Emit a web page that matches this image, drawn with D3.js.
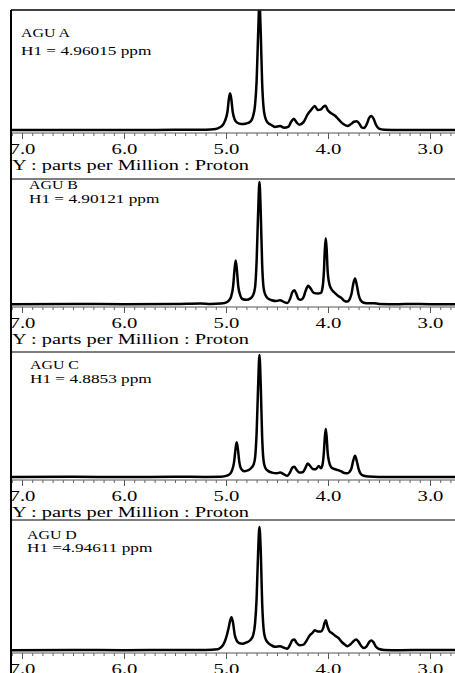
<!DOCTYPE html>
<html>
<head>
<meta charset="utf-8">
<script src="https://cdn.jsdelivr.net/npm/d3@7"></script>
<style>
  body { margin: 0; background: #fff; }
  svg { display: block; }
  text { font-family: 'Liberation Serif', 'Times New Roman', serif; fill: #000; }
</style>
</head>
<body>
<svg id="chart" width="455" height="673"></svg>
<script>
// sample names and H1 shift annotations
var samples = ['AGU A', 'AGU B', 'AGU C', 'AGU D'];
var h1Labels = ['H1 = 4.96015 ppm', 'H1 = 4.90121 ppm', 'H1 = 4.8853 ppm', 'H1 =4.94611 ppm'];
var axisTitle = 'Y : parts per Million : Proton';
var majorTicks = [7.0, 6.0, 5.0, 4.0, 3.0];

// [ppm, relative intensity (tallest peak = 100)]
var spectrumA = [[7.10,0.3],[6.50,0.4],[6.00,0.3],[5.50,0.5],[5.20,0.6],[5.10,1.2],[5.06,2.5],[5.035,4],[5.01,7.5],[4.985,15],[4.972,24.5],[4.96,29],[4.948,24.5],[4.935,15],[4.915,8.5],[4.89,6],[4.85,5],[4.80,5.5],[4.76,7],[4.735,11],[4.715,20],[4.70,38],[4.685,75],[4.672,100],[4.659,75],[4.646,38],[4.632,18],[4.615,10],[4.59,6],[4.56,4.5],[4.52,2.8],[4.47,3.5],[4.43,2.2],[4.39,2.8],[4.36,7],[4.335,9.2],[4.31,6.5],[4.28,4.5],[4.24,6.5],[4.20,12.5],[4.16,16.5],[4.13,19],[4.10,16],[4.07,16.5],[4.045,18.5],[4.025,19.2],[4.00,15.5],[3.96,13],[3.93,11.5],[3.89,8],[3.85,5],[3.81,3.5],[3.775,5],[3.745,6.8],[3.72,7.2],[3.695,5.5],[3.67,2.5],[3.645,2],[3.62,5],[3.595,10],[3.575,11.3],[3.555,9.5],[3.53,4.5],[3.50,1.5],[3.45,0.6],[3.30,0.3],[3.00,0.4],[2.70,0.3]];
var spectrumB = [[7.10,0.3],[6.50,0.4],[6.00,0.3],[5.50,0.4],[5.25,0.8],[5.15,0.5],[5.05,0.8],[4.99,2],[4.97,3.5],[4.95,6.5],[4.93,15],[4.917,28],[4.905,36],[4.893,28],[4.88,15],[4.86,7.5],[4.84,4.5],[4.80,3.8],[4.76,5],[4.735,7.5],[4.715,14],[4.70,35],[4.685,75],[4.672,100],[4.659,74],[4.646,34],[4.632,14],[4.615,8],[4.59,5],[4.55,3.5],[4.51,2.8],[4.47,3.5],[4.43,2],[4.40,1.2],[4.37,5],[4.35,10],[4.33,11.7],[4.31,8.5],[4.29,4.5],[4.265,3.8],[4.24,6],[4.22,11],[4.195,15.3],[4.17,13],[4.14,9.5],[4.10,9],[4.07,9.5],[4.055,13],[4.04,27],[4.031,45],[4.022,54],[4.013,45],[4.004,28],[3.99,18],[3.97,13],[3.94,10],[3.90,7],[3.87,5.4],[3.84,3],[3.81,2.4],[3.79,4],[3.77,8.5],[3.752,17],[3.735,21.3],[3.718,16],[3.70,8],[3.68,3.5],[3.65,1.5],[3.60,1],[3.55,1],[3.50,0.5],[3.30,0.3],[3.20,0.5],[3.00,0.3],[2.70,0.3]];
var spectrumC = [[7.10,0.4],[6.50,0.6],[6.00,0.4],[5.50,0.6],[5.20,0.5],[5.05,0.6],[4.99,1.5],[4.96,3],[4.94,6],[4.92,13],[4.907,23],[4.895,28.7],[4.883,23],[4.87,13],[4.85,7],[4.82,5.2],[4.78,6],[4.75,8],[4.73,10.5],[4.715,16],[4.70,36],[4.685,75],[4.672,100],[4.659,74],[4.646,34],[4.632,14],[4.615,8],[4.59,5.5],[4.55,4],[4.50,3.5],[4.47,4.1],[4.43,2.5],[4.40,1.4],[4.37,4.5],[4.35,8],[4.33,8.7],[4.31,6.5],[4.28,4],[4.25,4.2],[4.22,8],[4.20,11.5],[4.18,10],[4.15,7],[4.12,6.8],[4.09,9.3],[4.07,7.5],[4.055,10],[4.04,21],[4.031,33],[4.022,39.6],[4.013,33],[4.004,21],[3.99,13],[3.97,8.5],[3.94,7],[3.90,6],[3.87,5],[3.84,3.6],[3.81,3.4],[3.79,4.5],[3.77,7.5],[3.752,14],[3.735,17.7],[3.718,13.5],[3.70,7],[3.68,3],[3.65,1.4],[3.60,0.8],[3.50,0.5],[3.30,0.4],[3.00,0.5],[2.70,0.4]];
var spectrumD = [[7.10,0.3],[6.50,0.4],[6.00,0.3],[5.50,0.4],[5.20,0.4],[5.08,1],[5.05,2.5],[5.025,5],[5.00,10],[4.975,18],[4.96,24],[4.946,27],[4.932,23],[4.915,13],[4.895,8],[4.875,6.2],[4.84,5.4],[4.80,6.5],[4.76,8.5],[4.735,12],[4.715,22],[4.70,42],[4.685,80],[4.672,100],[4.659,80],[4.646,40],[4.632,18],[4.615,10],[4.59,6.5],[4.56,4.5],[4.52,3],[4.47,3.5],[4.43,2.2],[4.40,1.5],[4.37,5],[4.35,8.3],[4.33,8.9],[4.31,6.5],[4.28,4.3],[4.24,4.8],[4.21,8],[4.18,12.2],[4.15,14.5],[4.13,16.3],[4.10,15.4],[4.07,15.4],[4.05,17.5],[4.035,22],[4.022,24.4],[4.005,19.5],[3.985,15.5],[3.96,14],[3.93,12],[3.90,10.3],[3.86,6.5],[3.83,4.5],[3.81,3.4],[3.78,5],[3.75,7.5],[3.725,8.9],[3.70,7],[3.675,3.8],[3.65,2],[3.62,3.5],[3.595,7],[3.575,8.1],[3.555,6.8],[3.53,3],[3.50,1.2],[3.45,0.5],[3.30,0.3],[3.00,0.4],[2.70,0.3]];

var spectra = [spectrumA, spectrumB, spectrumC, spectrumD];

// layout
var width = 455, height = 673,
    left = 11,
    stretch = 1.38,
    panelTop = [10, 179, 352, 520],
    axisY = [133, 307, 480, 653],
    peakTop = [2, 182, 355, 527],
    labelX = [21, 29, 30, 27],
    labelY = [37, 189, 369, 539],
    h1Y = [55, 203, 383, 552];

var svg = d3.select('#chart');
var defs = svg.append('defs');

defs.append('clipPath')
    .attr('id', 'clip-left')
  .append('rect')
    .attr('x', left + 1)
    .attr('y', 0)
    .attr('width', width - left)
    .attr('height', height);

var x = d3.scaleLinear()
    .domain([7, 3])
    .range([22, 430]);

var minorTicks = d3.range(71, 27, -1).map(function(v) { return v / 10; });

var root = svg.append('g').attr('clip-path', 'url(#clip-left)');

spectra.forEach(function(data, i) {
  var base = axisY[i] - 2.5;
  var y = d3.scaleLinear()
      .domain([0, 100])
      .range([base, peakTop[i]]);

  var g = root.append('g').attr('class', 'panel panel-' + i);

  defs.append('clipPath')
      .attr('id', 'clip' + i)
    .append('rect')
      .attr('x', left)
      .attr('y', panelTop[i] + 0.5)
      .attr('width', width - left)
      .attr('height', axisY[i] - panelTop[i]);

  var line = d3.line()
      .x(function(d) { return x(d[0]); })
      .y(function(d) { return y(d[1]); })
      .curve(d3.curveMonotoneX);

  g.append('path')
      .datum(data)
      .attr('clip-path', 'url(#clip' + i + ')')
      .attr('d', line)
      .attr('fill', 'none')
      .attr('stroke', '#000')
      .attr('stroke-width', 2.5)
      .attr('stroke-linejoin', 'round');

  // axis line across the whole panel
  g.append('line')
      .attr('x1', left)
      .attr('x2', width)
      .attr('y1', axisY[i])
      .attr('y2', axisY[i])
      .attr('stroke', '#555')
      .attr('stroke-width', 1);

  var minor = g.append('g')
      .attr('transform', 'translate(0,' + axisY[i] + ')')
      .call(d3.axisBottom(x).tickValues(minorTicks).tickSize(3).tickSizeOuter(0).tickFormat(''));
  minor.select('.domain').remove();
  minor.selectAll('line').attr('stroke', '#666');

  var major = g.append('g')
      .attr('transform', 'translate(0,' + axisY[i] + ')')
      .call(d3.axisBottom(x).tickValues(majorTicks).tickSize(6).tickSizeOuter(0).tickFormat(d3.format('.1f')));
  major.select('.domain').remove();
  major.selectAll('line').attr('stroke', '#555');
  major.selectAll('text')
      .attr('y', 21)
      .attr('dy', 0)
      .attr('fill', '#000')
      .style('font-size', '15px')
      .style('font-family', "'Liberation Serif', serif")
      .attr('transform', 'scale(' + stretch + ',1)');

  if (i < 3) {
    g.append('text')
        .attr('transform', 'translate(' + (left + 1) + ',' + (axisY[i] + 37) + ') scale(' + 1.36 + ',1)')
        .style('font-size', '15px')
        .text(axisTitle);
  }

  g.append('text')
      .attr('transform', 'translate(' + labelX[i] + ',' + labelY[i] + ') scale(' + stretch + ',1)')
      .attr('fill', '#1a1a1a')
      .style('font-size', '11.5px')
      .text(samples[i]);

  g.append('text')
      .attr('transform', 'translate(' + labelX[i] + ',' + h1Y[i] + ') scale(' + stretch + ',1)')
      .attr('fill', '#1a1a1a')
      .style('font-size', '12.5px')
      .text(h1Labels[i]);

  // top border of each panel
  svg.append('line')
      .attr('x1', left)
      .attr('x2', width)
      .attr('y1', panelTop[i])
      .attr('y2', panelTop[i])
      .attr('stroke', '#000')
      .attr('stroke-width', i === 0 ? 1.6 : 1.1);
});

// left frame
svg.append('line')
    .attr('x1', left)
    .attr('x2', left)
    .attr('y1', panelTop[0])
    .attr('y2', height)
    .attr('stroke', '#000')
    .attr('stroke-width', 2);
</script>
</body>
</html>
